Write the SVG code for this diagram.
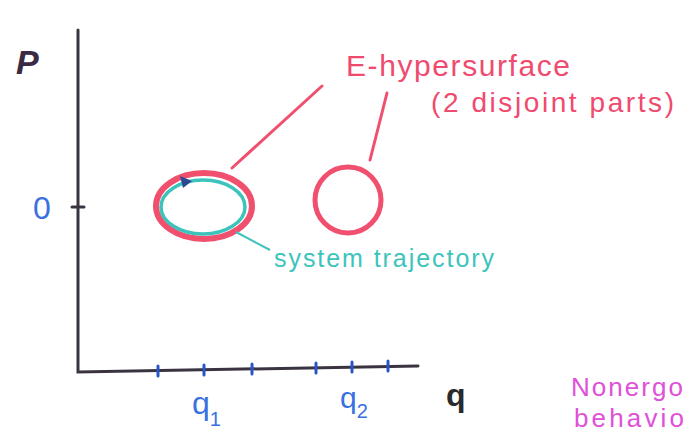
<svg xmlns="http://www.w3.org/2000/svg" width="688" height="435" viewBox="0 0 688 435">
<style>
.ax{stroke:#3a3440;stroke-width:3;fill:none;stroke-linecap:round}
.tk{stroke:#2a55c8;stroke-width:3;stroke-linecap:round}
.red{stroke:#f0506e;fill:none;stroke-linecap:round}
.t{font-family:"Liberation Sans",Arial,sans-serif}
.blue{fill:#3a70e0}
.rt{fill:#f04a6e}
.cy{fill:#3cc4bc}
</style>
<rect width="688" height="435" fill="#ffffff"/>
<g id="axes">
<path class="ax" d="M78,30 L78,372 L418,366"/>
<line x1="72" y1="207" x2="84" y2="207" class="ax" stroke-width="2.5"/>
<line class="tk" x1="158" y1="366" x2="158" y2="376"/>
<line class="tk" x1="204" y1="365" x2="204" y2="375"/>
<line class="tk" x1="252" y1="364" x2="252" y2="374"/>
<line class="tk" x1="316" y1="363" x2="316" y2="373"/>
<line class="tk" x1="352" y1="362" x2="352" y2="372"/>
<line class="tk" x1="388" y1="361" x2="388" y2="371"/>
</g>
<g id="labels-axes">
<text class="t" x="16" y="74" font-size="34" font-weight="bold" fill="#3a2a44" font-style="italic">P</text>
<text class="t blue" x="33" y="219" font-size="32">0</text>
<text class="t blue" x="192" y="414" font-size="32">q<tspan font-size="20" dy="12">1</tspan></text>
<text class="t blue" x="340" y="408" font-size="30">q<tspan font-size="20" dy="10">2</tspan></text>
<text class="t" x="446" y="406" font-size="32" font-weight="bold" fill="#2a2a2a">q</text>
</g>
<g id="hypersurface-1">
<ellipse class="red" cx="204" cy="206" rx="48" ry="33" stroke-width="6"/>
</g>
<g id="trajectory">
<ellipse cx="203" cy="207" rx="42" ry="27" fill="none" stroke="#3cc4bc" stroke-width="3.5"/>
<path d="M180,176 L192,181 L183,188 Z" fill="#2a4a90"/>
</g>
<g id="hypersurface-2">
<ellipse class="red" cx="348" cy="200" rx="33" ry="33" stroke-width="5"/>
</g>
<g id="connectors">
<line class="red" x1="232" y1="168" x2="322" y2="86" stroke-width="3"/>
<line class="red" x1="370" y1="160" x2="387" y2="93" stroke-width="3"/>
<line x1="236" y1="232" x2="270" y2="250" stroke="#3cc4bc" stroke-width="2"/>
</g>
<g id="label-e">
<text class="t rt" x="346" y="76" font-size="30" textLength="224" lengthAdjust="spacing">E-hypersurface</text>
<text class="t rt" x="431" y="112" font-size="28" textLength="243" lengthAdjust="spacing">(2 disjoint parts)</text>
</g>
<g id="label-traj">
<text class="t cy" x="274" y="267" font-size="25" textLength="220" lengthAdjust="spacing">system trajectory</text>
</g>
<g id="label-nonergodic">
<text class="t" x="571" y="396" font-size="26" fill="#e050d8" textLength="112" lengthAdjust="spacing">Nonergo</text>
<text class="t" x="574" y="427" font-size="26" fill="#e050d8" textLength="110" lengthAdjust="spacing">behavio</text>
</g>
</svg>
